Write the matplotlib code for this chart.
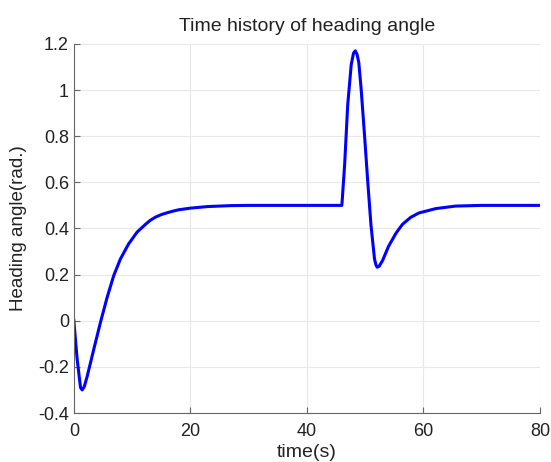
import numpy as np
import matplotlib.pyplot as plt

# heading angle response (rad.) read at these times (s)
t = [0, 0.57, 1.15, 1.43, 1.8, 2.3, 3.43, 4.57, 5.7, 6.85, 8.0, 9.4, 10.85, 12.3, 13.1, 14, 15, 16, 17, 18, 20,
     23, 27, 30, 40, 46.0,
     46.47, 47.0, 47.6, 48.0, 48.3, 48.6, 48.9, 49.3, 49.9, 50.45, 51.0, 51.6, 51.85, 52.05, 52.4,
     53.0, 53.5, 54.0, 55.3, 56.4, 57.8, 59.2, 62.1, 65.5, 70, 80]
heading = [0, -0.167, -0.29, -0.30, -0.285, -0.24, -0.123, -0.007, 0.10, 0.196, 0.268, 0.333, 0.384, 0.418, 0.435,
           0.449, 0.46, 0.468, 0.475, 0.481, 0.488,
           0.495, 0.499, 0.5, 0.5, 0.5,
           0.674, 0.935, 1.109, 1.16, 1.17, 1.155, 1.12, 1.007, 0.80, 0.60, 0.413, 0.268, 0.242, 0.232, 0.236,
           0.262, 0.292, 0.322, 0.38, 0.418, 0.448, 0.467, 0.486, 0.497, 0.5, 0.5]

xticks = [0, 20, 40, 60, 80]
yticks = [-0.4, -0.2, 0, 0.2, 0.4, 0.6, 0.8, 1, 1.2]
yticklabels = ['-0.4', '-0.2', '0', '0.2', '0.4', '0.6', '0.8', '1', '1.2']

plt.rcParams['font.family'] = ['Liberation Sans', 'DejaVu Sans']

fig = plt.figure(figsize=(5.51, 4.62), dpi=100)
ax = fig.add_axes([0.134, 0.106, 0.846, 0.799])
ax.plot(t, heading, color='#0000ff', lw=2.2, solid_joinstyle='round')

ax.set_xlim(0, 80)
ax.set_ylim(-0.4, 1.2)
ax.set_xticks(xticks)
ax.set_yticks(yticks)
ax.set_yticklabels(yticklabels)
ax.grid(True, color='#e8e8e8', lw=0.8)
ax.set_axisbelow(True)
for s in ['top', 'right']:
    ax.spines[s].set_visible(False)
for s in ['left', 'bottom']:
    ax.spines[s].set_color('#666666')
ax.tick_params(direction='in', length=4, colors='#666666', labelcolor='#222222', labelsize=13)
ax.tick_params(axis='x', pad=7)

ax.set_title('Time history of heading angle', fontsize=14, color='#222222', pad=9)
ax.set_xlabel('time(s)', fontsize=14, color='#222222', labelpad=3)
ax.set_ylabel('Heading angle(rad.)', fontsize=13.5, color='#222222', labelpad=8)

fig.savefig('out.png', dpi=100)
